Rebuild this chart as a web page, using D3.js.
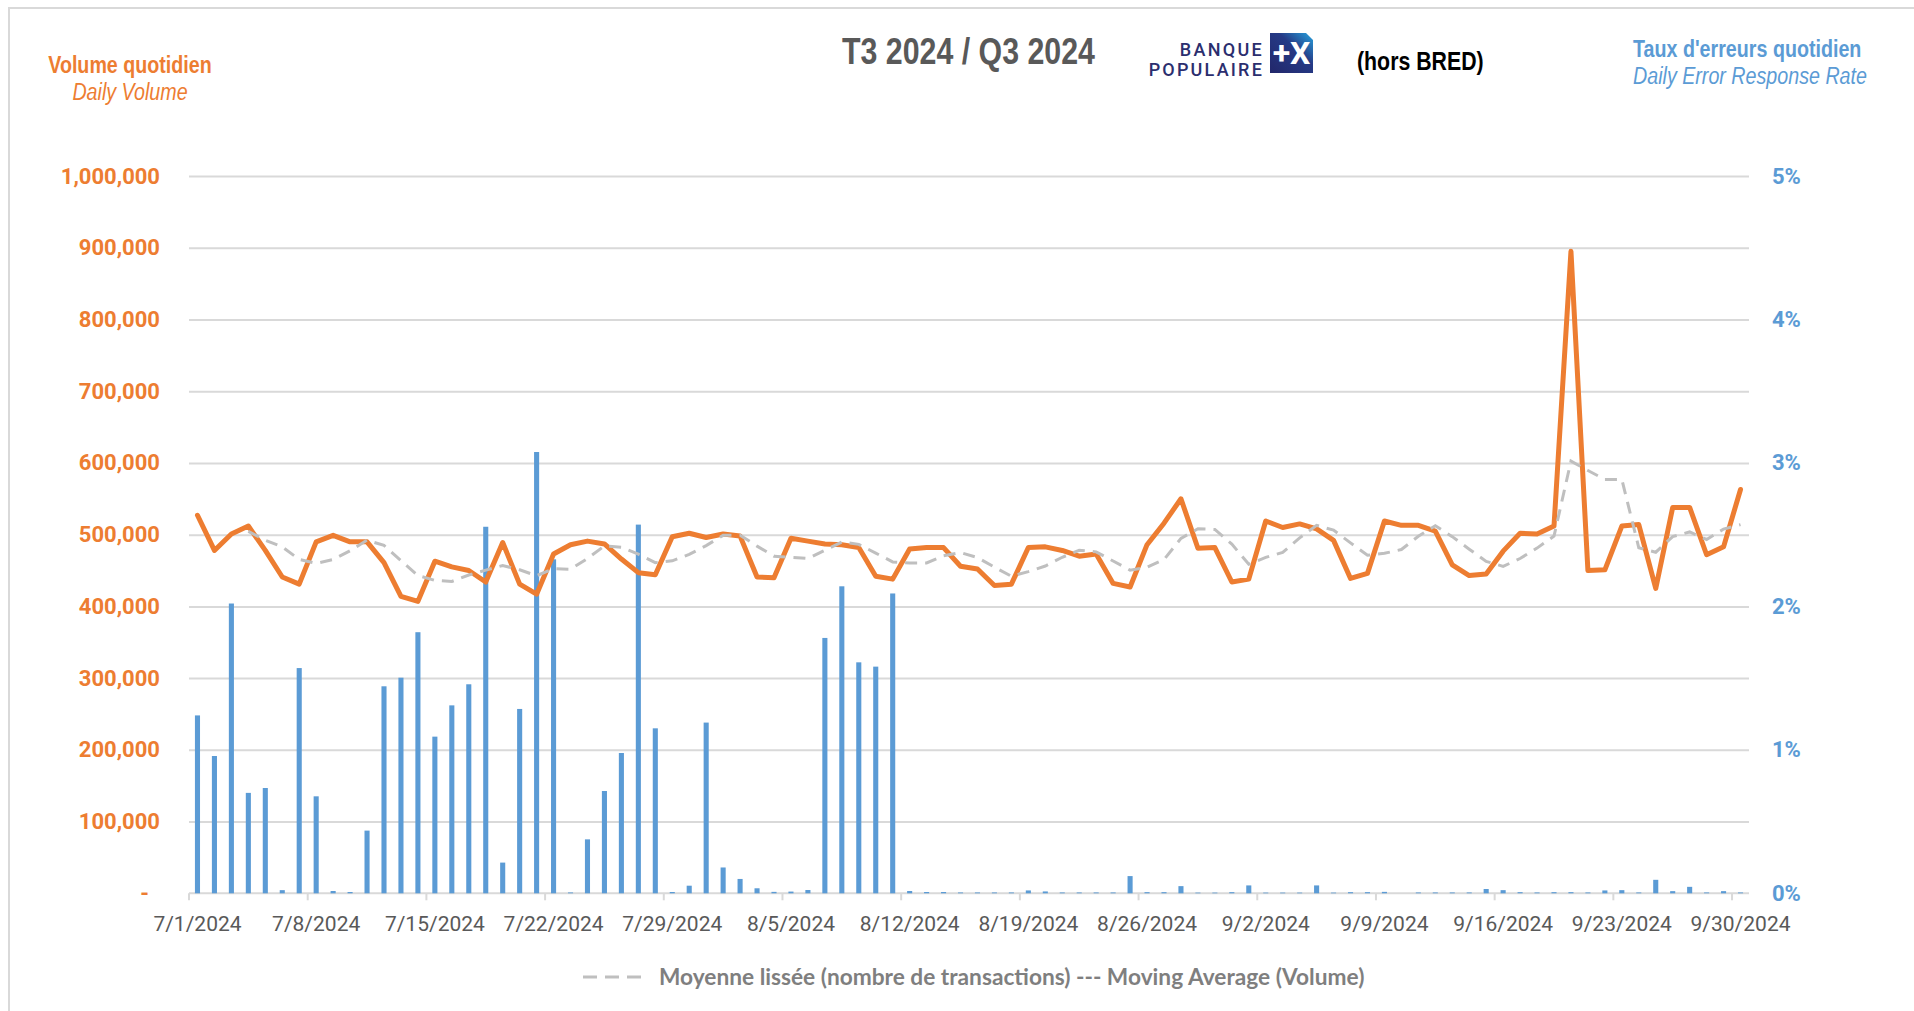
<!DOCTYPE html>
<html>
<head>
<meta charset="utf-8">
<script src="https://cdn.jsdelivr.net/npm/d3@7"></script>
<style>
  html, body { margin: 0; padding: 0; background: #fff; }
  svg { display: block; }
</style>
</head>
<body>
<svg id="chart"></svg>
<script>
// --- data -----------------------------------------------------------
const days = d3.timeDay.range(new Date(2024, 6, 1), new Date(2024, 9, 1)); // 7/1 .. 9/30

// daily volume (transactions)
const volume = [
  527000, 478000, 501000, 512000, 478000, 441000, 431000, 490000, 499000, 490000,
  490000, 461000, 414000, 407000, 463000, 455000, 450000, 434000, 489000, 431000,
  417000, 473000, 486000, 491000, 487000, 466000, 447000, 444000, 497000, 502000,
  496000, 501000, 498000, 441000, 440000, 495000, 491000, 487000, 486000, 482000,
  442000, 438000, 480000, 482000, 482000, 456000, 452000, 429000, 431000, 482000,
  483000, 478000, 470000, 473000, 432000, 427000, 486000, 516000, 550000, 481000,
  482000, 434000, 438000, 519000, 510000, 515000, 508000, 492000, 439000, 446000,
  519000, 513000, 513000, 505000, 458000, 443000, 445000, 477000, 502000, 501000,
  512000, 895000, 450000, 451000, 512000, 514000, 425000, 538000, 538000, 472000,
  483000, 563000
];

// daily error response rate (%)
const errorRate = [
  1.24, 0.957, 2.02, 0.70, 0.734, 0.022, 1.57, 0.676, 0.016, 0.009,
  0.437, 1.443, 1.503, 1.82, 1.092, 1.31, 1.457, 2.555, 0.214, 1.285,
  3.076, 2.328, 0.006, 0.376, 0.713, 0.978, 2.57, 1.15, 0.009, 0.053,
  1.19, 0.18, 0.10, 0.035, 0.01, 0.012, 0.023, 1.78, 2.14, 1.61,
  1.58, 2.09, 0.016, 0.009, 0.009, 0.006, 0.006, 0.006, 0.006, 0.02,
  0.013, 0.006, 0.006, 0.006, 0.006, 0.12, 0.008, 0.008, 0.05, 0.005,
  0.005, 0.008, 0.055, 0.005, 0.005, 0.005, 0.055, 0.005, 0.008, 0.008,
  0.01, 0, 0.006, 0.006, 0.006, 0.006, 0.03, 0.022, 0.008, 0.006,
  0.008, 0.008, 0.006, 0.02, 0.022, 0.006, 0.094, 0.015, 0.045, 0.006,
  0.015, 0.006
];

const maPeriod = 4; // Excel moving-average trendline period

const tickIndex = [0, 7, 14, 21, 28, 35, 42, 49, 56, 63, 70, 77, 84, 91];
const tickLabels = ["7/1/2024", "7/8/2024", "7/15/2024", "7/22/2024", "7/29/2024",
  "8/5/2024", "8/12/2024", "8/19/2024", "8/26/2024", "9/2/2024", "9/9/2024",
  "9/16/2024", "9/23/2024", "9/30/2024"];
const leftTicks = [0, 100000, 200000, 300000, 400000, 500000, 600000, 700000, 800000, 900000, 1000000];
const rightTicks = [0, 1, 2, 3, 4, 5];

// --- layout -----------------------------------------------------------
const W = 1914, H = 1011;
const plot = { left: 189, right: 1749, top: 176, bottom: 893.3 };
const ORANGE = "#ED7D31", BLUE = "#5B9BD5", GRID = "#D9D9D9";
const AXIS_FONT = "Roboto, 'Open Sans', sans-serif";

const svg = d3.select("#chart").attr("width", W).attr("height", H)
  .style("background", "#fff");

// no Arial Narrow here: squeeze Liberation Sans horizontally instead
function narrowText(x, y, str, size, opts = {}) {
  return svg.append("text")
    .attr("transform", `translate(${x},${y}) scale(0.82,1)`)
    .attr("text-anchor", opts.anchor || "start")
    .attr("fill", opts.fill || "#000")
    .style("font-family", "'Liberation Sans', Arial, sans-serif")
    .style("font-weight", opts.weight || 400)
    .style("font-style", opts.italic ? "italic" : "normal")
    .style("font-size", size + "px")
    .text(str);
}

const x = d3.scaleBand().domain(days).range([plot.left, plot.right]).padding(0);
const xBar = d3.scaleBand().domain(days).range([plot.left, plot.right])
  .paddingInner(0.7).paddingOuter(0.35);
const yLeft = d3.scaleLinear().domain([0, 1000000]).range([plot.bottom, plot.top]);
const yRight = d3.scaleLinear().domain([0, 5]).range([plot.bottom, plot.top]);
const cx = d => x(d) + x.bandwidth() / 2;

// outer frame
svg.append("rect").attr("x", 9).attr("y", 8).attr("width", W).attr("height", H)
  .attr("fill", "none").attr("stroke", GRID).attr("stroke-width", 2);

// gridlines
svg.append("g")
  .attr("transform", `translate(${plot.left},0)`)
  .call(d3.axisLeft(yLeft).tickValues(leftTicks.slice(1))
    .tickSize(-(plot.right - plot.left)).tickFormat(""))
  .call(g => g.select(".domain").remove())
  .selectAll("line").attr("stroke", GRID).attr("stroke-width", 2);

// x axis: baseline, tick marks at band starts, date labels centred on day
const xg = svg.append("g").attr("transform", `translate(0,${plot.bottom})`);
xg.append("line").attr("x1", plot.left).attr("x2", plot.right)
  .attr("stroke", GRID).attr("stroke-width", 2);
xg.selectAll(".tk").data(tickIndex).join("line").attr("class", "tk")
  .attr("x1", i => x(days[i])).attr("x2", i => x(days[i]))
  .attr("y1", 0).attr("y2", 7).attr("stroke", GRID).attr("stroke-width", 2);

svg.append("g")
  .attr("transform", `translate(0,${plot.bottom})`)
  .call(d3.axisBottom(x).tickValues(tickIndex.map(i => days[i]))
    .tickSize(0).tickPadding(23)
    .tickFormat((d, k) => tickLabels[k]))
  .call(g => g.select(".domain").remove())
  .selectAll("text")
  .attr("fill", "#595959").style("font-family", AXIS_FONT).style("font-size", "21px");

// left axis
const la = svg.append("g")
  .attr("transform", `translate(${plot.left},0)`)
  .call(d3.axisLeft(yLeft).tickValues(leftTicks).tickSize(0).tickPadding(29)
    .tickFormat(v => v === 0 ? "-" : d3.format(",")(v)))
  .call(g => g.select(".domain").remove());
la.selectAll("text").attr("fill", ORANGE)
  .style("font-family", AXIS_FONT).style("font-size", "22px").style("font-weight", 700);
la.selectAll(".tick").filter(v => v === 0).select("text").attr("dx", -11);

// right axis
svg.append("g")
  .attr("transform", `translate(${plot.right},0)`)
  .call(d3.axisRight(yRight).tickValues(rightTicks).tickSize(0).tickPadding(23)
    .tickFormat(v => v + "%"))
  .call(g => g.select(".domain").remove())
  .selectAll("text").attr("fill", BLUE)
  .style("font-family", AXIS_FONT).style("font-size", "22px").style("font-weight", 700);

// bars: error rate on right axis
svg.append("g").selectAll("rect").data(errorRate).join("rect")
  .attr("x", (v, i) => xBar(days[i]))
  .attr("width", xBar.bandwidth())
  .attr("y", v => yRight(v))
  .attr("height", v => yRight(0) - yRight(v))
  .attr("fill", BLUE);

// volume line
const line = d3.line().x(d => cx(d.day)).y(d => yLeft(d.v));
const volPts = volume.map((v, i) => ({ day: days[i], v }));
svg.append("path").datum(volPts)
  .attr("d", line)
  .attr("fill", "none").attr("stroke", ORANGE).attr("stroke-width", 5)
  .attr("stroke-linejoin", "round").attr("stroke-linecap", "round");

// moving-average trendline (period 4), like Excel draws it
const maPts = volPts.slice(maPeriod - 1).map((p, k) => ({
  day: p.day,
  v: d3.mean(volume.slice(k, k + maPeriod))
}));
svg.append("path").datum(maPts)
  .attr("d", line)
  .attr("fill", "none").attr("stroke", "#BFBFBF").attr("stroke-width", 3)
  .attr("stroke-dasharray", "12,8");

// --- header ---------------------------------------------------------
narrowText(130, 73, "Volume quotidien", 24, { anchor: "middle", fill: ORANGE, weight: 700 });
narrowText(130, 100, "Daily Volume", 24, { anchor: "middle", fill: ORANGE, italic: true });
narrowText(1633, 57, "Taux d'erreurs quotidien", 24, { fill: BLUE, weight: 700 });
narrowText(1633, 84, "Daily Error Response Rate", 24, { fill: BLUE, italic: true });
narrowText(842, 64, "T3 2024 / Q3 2024", 37, { fill: "#595959", weight: 700 });
narrowText(1357, 70, "(hors BRED)", 26, { fill: "#000", weight: 700 });

// Banque Populaire logo
const logo = svg.append("g");
const grad = svg.append("defs").append("linearGradient").attr("id", "bp")
  .attr("x1", "0").attr("y1", "1").attr("x2", "1").attr("y2", "0");
grad.append("stop").attr("offset", "0").attr("stop-color", "#22276a");
grad.append("stop").attr("offset", "0.6").attr("stop-color", "#253a86");
grad.append("stop").attr("offset", "1").attr("stop-color", "#27a4df");
logo.append("text").attr("x", 1264).attr("y", 55.5).attr("text-anchor", "end")
  .attr("fill", "#2b2e6e").style("font-family", "Roboto, sans-serif")
  .style("font-weight", 500).style("font-size", "18px").style("letter-spacing", "2.3px")
  .text("BANQUE");
logo.append("text").attr("x", 1264).attr("y", 76).attr("text-anchor", "end")
  .attr("fill", "#2b2e6e").style("font-family", "Roboto, sans-serif")
  .style("font-weight", 500).style("font-size", "18px").style("letter-spacing", "2.2px")
  .text("POPULAIRE");
logo.append("path").attr("d", "M1270,33 H1306 L1313,40 V73 H1270 Z").attr("fill", "url(#bp)");
logo.append("text").attr("x", 1291.5).attr("y", 64).attr("text-anchor", "middle")
  .attr("fill", "#fff").style("font-family", "Roboto, sans-serif").style("font-weight", 700)
  .style("font-size", "32px").text("+X");

// --- legend ---------------------------------------------------------
svg.append("line").attr("x1", 583).attr("x2", 641).attr("y1", 977).attr("y2", 977)
  .attr("stroke", "#BFBFBF").attr("stroke-width", 3).attr("stroke-dasharray", "14,8");
svg.append("text").attr("x", 659).attr("y", 985).attr("fill", "#7F7F7F")
  .style("font-family", "Lato, sans-serif").style("font-weight", 700).style("font-size", "22.7px")
  .text("Moyenne lissée (nombre de transactions) --- Moving Average (Volume)");
</script>
</body>
</html>
